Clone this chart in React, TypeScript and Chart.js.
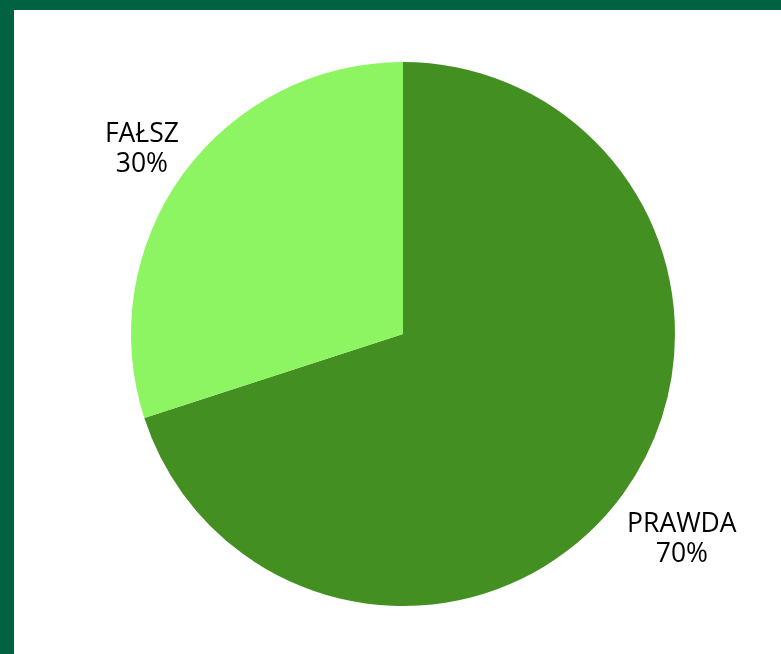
import React, { useEffect, useRef } from "react";
import { Chart, registerables } from "chart.js";

Chart.register(...registerables);

const categories = ["PRAWDA", "FAŁSZ"];
const values = [70, 30];
const percentLabels = ["70%", "30%"];
const colors = ["#448f22", "#8ef562"];

const labelPlugin = {
  id: "outsideLabels",
  afterDatasetsDraw(chart: any) {
    const ctx = chart.ctx;
    const meta = chart.getDatasetMeta(0);
    ctx.save();
    ctx.font = "26.5px 'Open Sans', 'Noto Sans', sans-serif";
    ctx.fillStyle = "#000000";
    ctx.textAlign = "center";
    ctx.textBaseline = "alphabetic";
    const lineH = 30;
    const capH = 18.8;
    const belowExtra = 16;
    meta.data.forEach((arc: any, i: number) => {
      const p = arc.getProps(["x", "y", "startAngle", "endAngle", "outerRadius"], true);
      const mid = (p.startAngle + p.endAngle) / 2;
      const dx = Math.cos(mid);
      const dy = Math.sin(mid);
      const lines = [categories[i], percentLabels[i]];
      const w = Math.max(...lines.map((l) => ctx.measureText(l).width));
      const hh = (lineH + capH) / 2;
      const d = p.outerRadius + 5;
      const cx = p.x + dx * d + Math.sign(dx) * (w / 2);
      const cy = p.y + dy * d + (dy > 0 ? hh + belowExtra : -hh + 1);
      const top = cy - hh;
      lines.forEach((l, k) => {
        ctx.fillText(l, cx, top + capH + k * lineH);
      });
    });
    ctx.restore();
  },
};

export default function App() {
  const ref = useRef<HTMLCanvasElement | null>(null);
  useEffect(() => {
    if (!ref.current) return;
    const chart = new Chart(ref.current, {
      type: "pie",
      data: {
        labels: categories,
        datasets: [
          {
            data: values,
            backgroundColor: colors,
            borderWidth: 0,
            hoverOffset: 0,
          },
        ],
      },
      options: {
        responsive: false,
        animation: false,
        layout: { padding: { left: 111, right: 100, top: 52, bottom: 48 } },
        plugins: {
          legend: { display: false },
          tooltip: { enabled: false },
        },
        events: [],
      },
      plugins: [labelPlugin],
    });
    return () => chart.destroy();
  }, []);
  return (
    <div
      style={{
        position: "absolute",
        left: 0,
        top: 0,
        width: 781,
        height: 654,
        boxSizing: "border-box",
        borderTop: "10px solid #006241",
        borderLeft: "14px solid #006241",
        background: "#ffffff",
        overflow: "hidden",
      }}
    >
      <canvas ref={ref} width={767} height={644} style={{ display: "block" }} />
    </div>
  );
}
